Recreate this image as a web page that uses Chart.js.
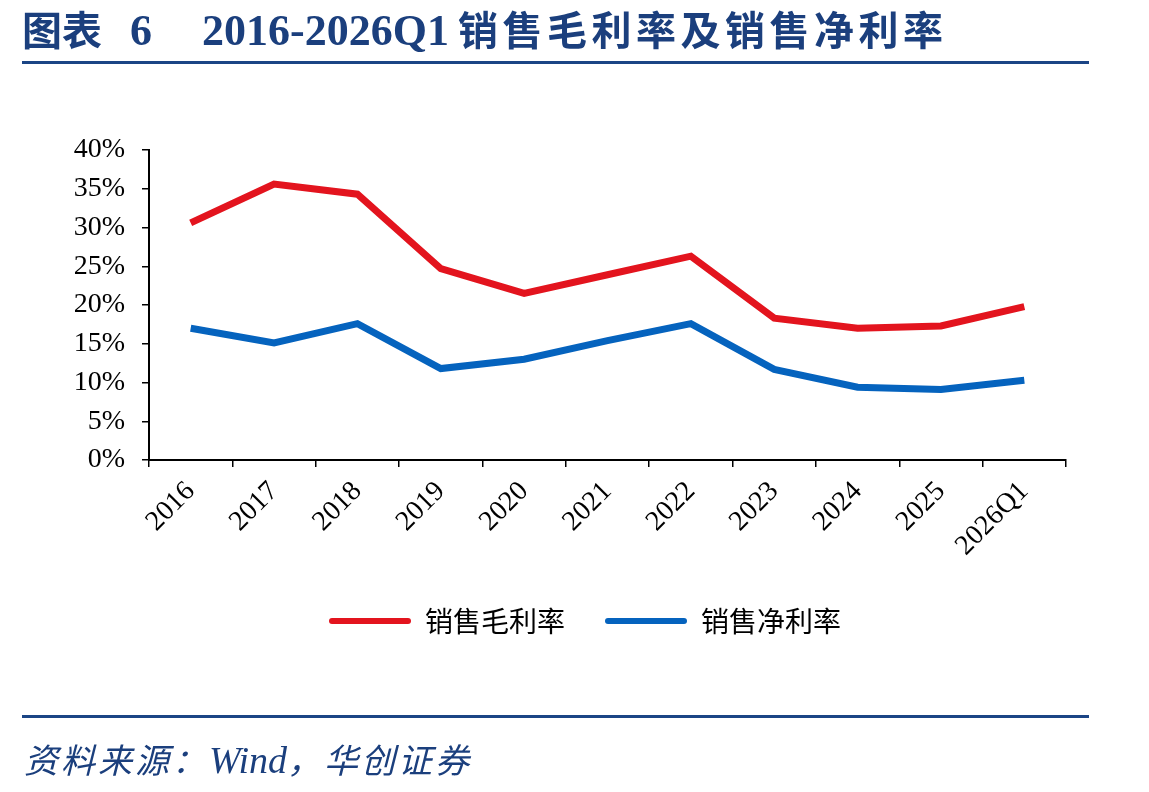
<!DOCTYPE html>
<html>
<head>
<meta charset="utf-8">
<script src="https://cdn.jsdelivr.net/npm/chart.js@4.4.1/dist/chart.umd.min.js"></script>
<style>
    html, body { margin: 0; padding: 0; background: #fff; }
    body { width: 1149px; height: 792px; position: relative; overflow: hidden; }
    #chart-box { position: absolute; left: 0; top: 0; width: 1149px; height: 792px; }
    .title {
        position: absolute; left: 22px; top: -1px; color: #1b3f7d;
        font-size: 40px; font-weight: bold; white-space: nowrap;
        font-family: "Noto Sans CJK SC", sans-serif;
    }
    .title .num { font-family: "Liberation Serif", serif; font-size: 44px; letter-spacing: 0; }
    .title .cjk { letter-spacing: 4.5px; }
    .rule { position: absolute; left: 22px; width: 1067px; height: 3px; background: #1b4585; }
    .source {
        position: absolute; left: 24px; top: 734px; color: #1b3f7d;
        font-size: 34px; font-style: italic; white-space: nowrap; letter-spacing: 3px;
        font-family: "Noto Sans CJK SC", sans-serif;
    }
    .source .num { font-family: "Liberation Serif", serif; font-size: 38px; letter-spacing: 0; }
</style>
</head>
<body>
<div id="chart-box"><canvas id="margin-chart" width="1149" height="792"></canvas></div>
<div class="title">图表<span class="num" style="margin-left:28px">6</span><span class="num" style="margin-left:50px">2016-2026Q1</span> <span class="cjk">销售毛利率及销售净利率</span></div>
<div class="rule" style="top:61px"></div>
<div class="rule" style="top:715px"></div>
<div class="source">资料来源：<span class="num">Wind</span>，华创证券</div>
<script>
// Categories and series (percent values)
const years = ['2016', '2017', '2018', '2019', '2020', '2021', '2022', '2023', '2024', '2025', '2026Q1'];
const grossMargin = [30.6, 35.6, 34.3, 24.7, 21.5, 23.9, 26.3, 18.3, 17.0, 17.3, 19.8];
const netMargin = [17.0, 15.1, 17.6, 11.8, 13.0, 15.4, 17.6, 11.7, 9.4, 9.1, 10.3];
const yTicks = [0, 5, 10, 15, 20, 25, 30, 35, 40];

const serif = '"Liberation Serif", "Times New Roman", serif';

// Nudge the bottom legend so it sits where the reference has it
const legendShift = {
    id: 'legendShift',
    afterLayout(chart) {
        if (chart.legend) {
            chart.legend.left += 52;
            chart.legend.right += 52;
        }
    }
};

const ctx = document.getElementById('margin-chart').getContext('2d');
const chart = new Chart(ctx, {
    type: 'line',
    data: {
        labels: years,
        datasets: [{
            label: '销售毛利率',
            data: grossMargin,
            borderColor: '#e3141e',
            backgroundColor: '#e3141e',
            borderWidth: 7,
            pointRadius: 0,
            tension: 0
        }, {
            label: '销售净利率',
            data: netMargin,
            borderColor: '#0563be',
            backgroundColor: '#0563be',
            borderWidth: 7,
            pointRadius: 0,
            tension: 0
        }]
    },
    options: {
        responsive: false,
        animation: false,
        layout: {
            padding: { left: 0, right: 83, top: 150, bottom: 147 }
        },
        scales: {
            x: {
                offset: true,
                grid: { offset: true, drawOnChartArea: false, drawTicks: true, tickLength: 7, color: '#000', lineWidth: 1.5 },
                border: { display: true, color: '#000', width: 2 },
                ticks: {
                    color: '#000',
                    font: { family: serif, size: 28 },
                    maxRotation: 45,
                    minRotation: 45,
                    padding: 8,
                    autoSkip: false
                },
                afterFit(scale) { scale.height = 107; }
            },
            y: {
                min: 0,
                max: 40,
                afterBuildTicks(scale) { scale.ticks = yTicks.map(v => ({ value: v })); },
                grid: { drawOnChartArea: false, drawTicks: true, tickLength: 7, color: '#000', lineWidth: 1.5 },
                border: { display: true, color: '#000', width: 2 },
                ticks: {
                    color: '#000',
                    font: { family: serif, size: 28 },
                    padding: 17,
                    callback: function(value) {
                        return value + '%';
                    }
                },
                afterFit(scale) { scale.width = 149; }
            }
        },
        plugins: {
            legend: {
                position: 'bottom',
                labels: {
                    boxWidth: 82,
                    boxHeight: 6,
                    padding: 40,
                    useBorderRadius: true,
                    borderRadius: 3,
                    color: '#000',
                    font: { family: '"Noto Sans CJK SC", sans-serif', size: 28 },
                    generateLabels(chart) {
                        const items = Chart.defaults.plugins.legend.labels.generateLabels(chart);
                        return items.map(item => Object.assign(item, { lineWidth: 0 }));
                    }
                }
            },
            tooltip: { enabled: false }
        }
    },
    plugins: [legendShift]
});
</script>
</body>
</html>
